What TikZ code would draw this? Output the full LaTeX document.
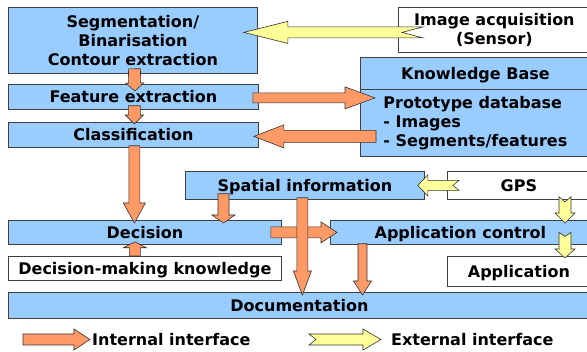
\documentclass[tikz,border=0pt]{standalone}
\usepackage{fontspec}
\setmainfont{DejaVu Sans}
\usetikzlibrary{calc}
\definecolor{boxblue}{HTML}{99CCFF}
\definecolor{arrorange}{HTML}{FF9966}
\definecolor{arryellow}{HTML}{FFFF99}
\newcommand\blockarrow[7]{%
  \coordinate (ba-s) at #2;
  \coordinate (ba-e) at #3;
  \coordinate (ba-b) at ($(ba-e)!#6!(ba-s)$);
  \path[#1] ($(ba-s)!#4!90:(ba-e)$) -- ($(ba-b)!#4!90:(ba-e)$) -- ($(ba-b)!#5!90:(ba-e)$)
    -- (ba-e) -- ($(ba-b)!#5!-90:(ba-e)$) -- ($(ba-b)!#4!-90:(ba-e)$)
    -- ($(ba-s)!#4!-90:(ba-e)$) -- ($(ba-s)!#7!(ba-e)$) -- cycle;
}
\tikzset{
  box/.style={draw=black!75, line width=0.8pt, fill=boxblue, anchor=north west, inner sep=0pt,
    font=\bfseries\fontsize{16}{19}\selectfont, align=center},
  wbox/.style={box, fill=white},
  oneline/.style={text height=14pt, text depth=2.3pt},
  lbl/.style={inner sep=0pt, font=\bfseries\fontsize{16}{19}\selectfont, align=center},
  intarrow/.style={draw=black!80, line width=0.6pt, fill=arrorange, line join=miter},
  extarrow/.style={draw=black!80, line width=0.6pt, fill=arryellow, line join=miter},
}
\begin{document}
\begin{tikzpicture}[x=1pt,y=-1pt]
\useasboundingbox (0,0) rectangle (587,352);
\clip (0,0) rectangle (587,352);
% boxes
\node[box, minimum width=249pt, minimum height=66pt] (seg) at (8,7) {Segmentation/\\Binarisation\\Contour extraction};
\node[box, oneline, minimum width=250pt, minimum height=25pt] (feat) at (8,84) {Feature extraction};
\node[box, oneline, minimum width=250pt, minimum height=25pt] (class) at (8,122) {Classification};
\node[wbox, minimum width=192pt, minimum height=45pt] (img) at (398,7) {};
\node[box, oneline, minimum width=230pt, minimum height=32pt] (kbhead) at (360,57) {Knowledge Base};
\node[box, minimum width=230pt, minimum height=67pt, align=left] (kbbody) at (360,89) {Prototype database\\- Images\\- Segments/features};
\node[box, oneline, minimum width=239pt, minimum height=28pt] (spatial) at (185,171) {Spatial information};
\node[wbox, oneline, minimum width=143pt, minimum height=28pt] (gps) at (447,171) {GPS};
\node[box, oneline, minimum width=273pt, minimum height=24pt] (decision) at (8,220) {Decision};
\node[box, oneline, minimum width=260pt, minimum height=24pt] (appctrl) at (330,220) {Application control};
\node[wbox, oneline, minimum width=273pt, minimum height=24pt] (dmk) at (8,256) {Decision-making knowledge};
\node[wbox, oneline, minimum width=143pt, minimum height=30pt] (app) at (447,256) {Application};
\node[box, oneline, minimum width=582pt, minimum height=26pt] (doc) at (8,292) {Documentation};
% internal interfaces
\blockarrow{intarrow}{($(seg.south)+(1.5,-5)$)}{($(feat.north)+(1.5,7)$)}{6pt}{9pt}{8pt}{0pt}
\blockarrow{intarrow}{($(feat.south)+(1,-4)$)}{($(class.north)+(1,2)$)}{6pt}{9pt}{9pt}{0pt}
\blockarrow{intarrow}{($(class.south)+(1,-2)$)}{($(class.south |- decision.north)+(1,3)$)}{5.5pt}{11pt}{20pt}{0pt}
\blockarrow{intarrow}{($(feat.east)+(-6,1)$)}{($(kbbody.west |- feat.east)+(15,1)$)}{5pt}{11pt}{30pt}{0pt}
\blockarrow{intarrow}{($(kbbody.west |- class.east)+(16,1.5)$)}{($(class.east)+(-5,1.5)$)}{6pt}{11.5pt}{30pt}{0pt}
\blockarrow{intarrow}{($(spatial.south west)+(38.5,-6)$)}{($(spatial.south west |- decision.north)+(38.5,3)$)}{5.5pt}{11.5pt}{8pt}{0pt}
\blockarrow{intarrow}{($(dmk.north)+(-10,0)$)}{($(decision.south)+(-10,-3)$)}{5.5pt}{11.5pt}{6pt}{0pt}
\blockarrow{intarrow}{($(decision.east)+(-11,0)$)}{($(appctrl.west)+(7,0)$)}{5.5pt}{10.5pt}{16pt}{0pt}
\blockarrow{intarrow}{($(spatial.south)+(-2.5,-2)$)}{($(spatial.south |- doc.north)+(-2.5,3)$)}{5.5pt}{9pt}{24pt}{0pt}
\blockarrow{intarrow}{($(appctrl.south west)+(32.5,-1)$)}{($(appctrl.south west |- doc.north)+(32.5,3)$)}{4.5pt}{9pt}{14pt}{0pt}
% external interfaces
\blockarrow{extarrow}{($(img.west)+(25,2.5)$)}{($(seg.east |- img.west)+(-14,2.5)$)}{5.5pt}{11pt}{44pt}{21pt}
\blockarrow{extarrow}{($(gps.west)+(12,0)$)}{($(spatial.east)+(-7,0)$)}{5pt}{10.5pt}{10pt}{6pt}
\blockarrow{extarrow}{($(gps.south west)+(118,-3)$)}{($(gps.south west |- appctrl.north)+(118,3)$)}{6pt}{10pt}{10pt}{5pt}
\blockarrow{extarrow}{($(gps.south west |- appctrl.east)+(118,0)$)}{($(gps.south west |- app.north)+(118,2)$)}{6pt}{10pt}{9pt}{4pt}
% text over the acquisition arrow
\node[lbl] (imgtext) at (img.center) {Image acquisition\\(Sensor)};
% legend
\coordinate (intS) at (23,339.5);
\coordinate (intE) at (90,339.5);
\coordinate (extS) at (309,339.5);
\coordinate (extE) at (381,339.5);
\blockarrow{intarrow}{(intS)}{(intE)}{5.5pt}{10.5pt}{16pt}{0pt}
\blockarrow{extarrow}{(extS)}{(extE)}{5.5pt}{10.5pt}{18pt}{7pt}
\node[lbl, oneline, anchor=west] (intlbl) at (92,339.5) {Internal interface};
\node[lbl, oneline, anchor=west] (extlbl) at (391,339.5) {External interface};
\end{tikzpicture}
\end{document}
